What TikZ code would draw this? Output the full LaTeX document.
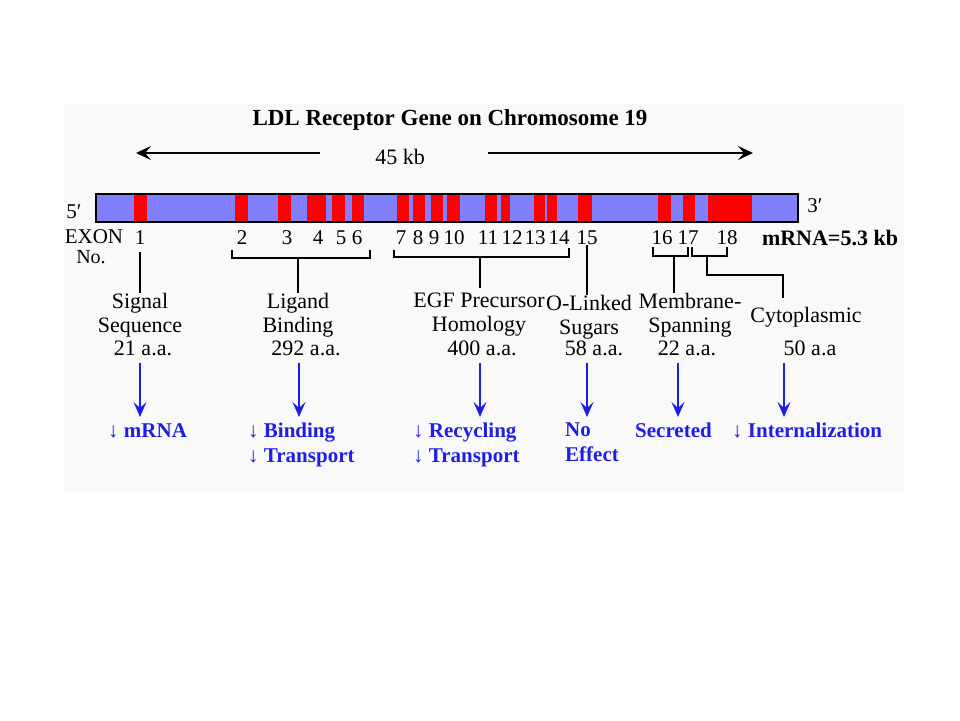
\documentclass[tikz,border=0pt]{standalone}
\usepackage{fontspec}
\setmainfont{Liberation Serif}
\usetikzlibrary{arrows.meta}

\definecolor{bggray}{RGB}{249,249,249}
\definecolor{barblue}{RGB}{128,128,255}
\definecolor{exonred}{RGB}{255,0,0}
\definecolor{fxblue}{RGB}{30,30,230}

\tikzset{
  lbl/.style={inner sep=0pt, align=center, font=\fontsize{22}{24}\selectfont},
  num/.style={inner sep=0pt, font=\fontsize{21}{24}\selectfont},
  fx/.style={inner sep=0pt, align=left, anchor=north west, text=fxblue,
    font=\bfseries\fontsize{21}{25}\selectfont},
  link/.style={line width=1.4pt},
  kbarrow/.style={line width=1.5pt, -{Stealth[length=15pt,width=14pt,inset=6pt]}},
  fxarrow/.style={draw=fxblue, line width=1.8pt, shorten >=6pt,
    -{Stealth[length=15pt,width=13pt,inset=6pt]}}
}

\begin{document}
\begin{tikzpicture}[x=1pt,y=-1pt]
\useasboundingbox (0,0) rectangle (960,720);
\fill[bggray] (64,104) rectangle (904,492);

% title and length
\node[inner sep=0pt, font=\bfseries\fontsize{23}{26}\selectfont] (title) at (450,120) {LDL Receptor Gene on Chromosome 19};
\node[num, font=\fontsize{22}{24}\selectfont] (kb) at (400,157) {45 kb};
\coordinate (kbl) at (136,153);
\coordinate (kbr) at (753,153);
\draw[kbarrow] ([xshift=-55pt]kb.west |- kbl) -- (kbl);
\draw[kbarrow] ([xshift=63pt]kb.east |- kbr) -- (kbr);

% gene bar with exons
\node[draw, fill=barblue, line width=1.5pt, minimum width=702pt, minimum height=28pt, inner sep=0pt] (bar) at (447,208) {};
\foreach \a/\b in {134/147, 235/248, 278/291, 307/326, 332/345, 352/364, 397/409, 413/425, 431/443,
  447/460, 485/497, 501/510, 534/545, 547/557, 578/592, 658/671, 683/695, 708/752}
  \fill[exonred] (\a,194.8) rectangle (\b,221.2);
\node[num] (five) at (74,212) {5′};
\node[num] (three) at (815,206) {3′};

% exon numbers
\node[num] (exon) at (94,237) {EXON};
\node[num, font=\fontsize{20}{24}\selectfont] (no) at (91,257) {No.};
\foreach \n/\x in {1/140, 2/242, 3/287, 4/318, 5/341, 6/357, 7/401, 8/418, 9/434, 10/454,
  11/488, 12/512, 13/535, 14/559, 15/587, 16/662, 17/688, 18/727}
  \node[num] (ex\n) at (\x,238) {\n};
\node[inner sep=0pt, font=\bfseries\fontsize{22}{24}\selectfont] (mrna) at (830,238) {mRNA=5.3 kb};

% domains
\node[lbl, anchor=north] (sig) at (140,293) {Signal\\Sequence};
\node[lbl, anchor=north] (lig) at (298,293) {Ligand\\Binding};
\node[lbl, anchor=north] (egf) at (479,293) {EGF Precursor\\Homology};
\node[lbl, anchor=north] (olink) at (589,295) {O-Linked\\Sugars};
\node[lbl, anchor=north] (mem) at (690,293) {Membrane-\\Spanning};
\node[lbl, anchor=north] (cyto) at (806,307) {Cytoplasmic};
\node[lbl, anchor=base] (sigaa) at (143,355) {21 a.a.};
\node[lbl, anchor=base] (ligaa) at (306,355) {292 a.a.};
\node[lbl, anchor=base] (egfaa) at (482,355) {400 a.a.};
\node[lbl, anchor=base] (olinkaa) at (594,355) {58 a.a.};
\node[lbl, anchor=base] (memaa) at (687,355) {22 a.a.};
\node[lbl, anchor=base] (cytoaa) at (810,355) {50 a.a};

% brackets
\coordinate (b1l) at (232,250); \coordinate (b1r) at (370,250); \coordinate (b1m) at (298,258);
\coordinate (b2l) at (394,250); \coordinate (b2r) at (569,248); \coordinate (b2m) at (480,257);
\coordinate (b3l) at (653,247); \coordinate (b3r) at (688,247); \coordinate (b3m) at (674,256);
\coordinate (b4l) at (692,247); \coordinate (b4r) at (727,247); \coordinate (b4m) at (707,256);
\coordinate (cytoin) at (783,298);
\draw[link] (b1l) |- (b1m) -| (b1r);
\draw[link] (b2l) |- (b2m) -| (b2r);
\draw[link] (b3l) |- (b3m) -| (b3r);
\draw[link] (b4l) |- (b4m) -| (b4r);
\draw[link] ([yshift=-7pt]ex1.south) -- (sig.north);
\draw[link] (b1m) -- (lig.north);
\draw[link] (b2m) -- ([yshift=5pt]b2m |- egf.north);
\draw[link] (ex15.south) -- (ex15.south |- olink.north);
\draw[link] (b3m) -- (b3m |- mem.north);
\draw[link] (b4m) -- ++(0,19) -| (cytoin);

% effects
\node[fx] (fx1) at (108,423) {↓ mRNA};
\node[fx] (fx2) at (248,423) {↓ Binding\\↓ Transport};
\node[fx] (fx3) at (413,423) {↓ Recycling\\↓ Transport};
\node[fx] (fx4) at (565,423) {No\\Effect};
\node[fx] (fx5) at (635,423) {Secreted};
\node[fx] (fx6) at (732,423) {↓ Internalization};
\foreach \i/\x in {1/140, 2/299, 3/480, 4/587, 5/678, 6/784} {
  \coordinate (a\i) at (\x,363);
  \draw[fxarrow] (a\i) -- (a\i |- fx\i.north);
}
\end{tikzpicture}
\end{document}
